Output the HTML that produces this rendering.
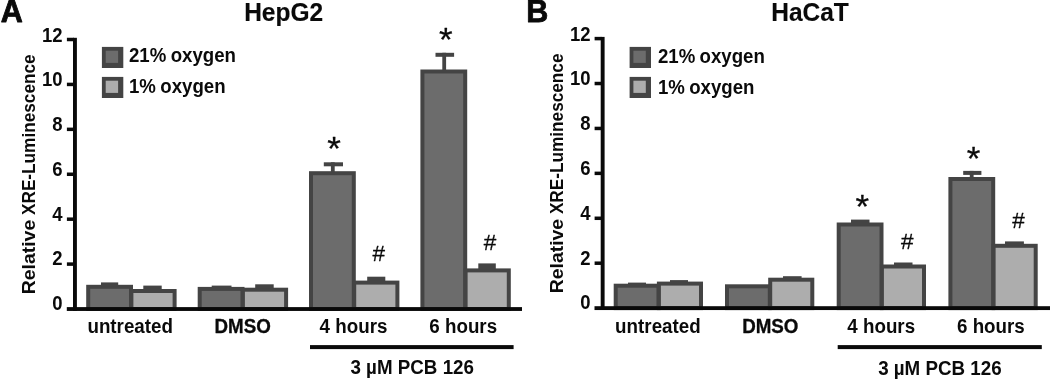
<!DOCTYPE html>
<html><head><meta charset="utf-8"><title>XRE-Luminescence</title>
<style>
html,body{margin:0;padding:0;background:#fff;}
svg{display:block;}
text{font-family:"Liberation Sans", sans-serif;fill:#0a0a0a;stroke:#0a0a0a;stroke-width:0;stroke-linejoin:round;}
.tk{font-size:18.5px;font-weight:bold;}
.yl{font-size:18px;font-weight:bold;}
.pl{font-size:30.5px;font-weight:bold;stroke-width:0.8px;}
.tt{font-size:24.5px;font-weight:bold;stroke-width:0.15px;}
.lg{font-size:18.65px;font-weight:bold;word-spacing:-0.8px;}
.xl{font-size:18.8px;font-weight:bold;}
.xb{stroke-width:0.3px;}
.st{font-size:35px;stroke-width:0.3px;}
.hs{font-size:22.5px;stroke-width:0.3px;}
</style></head><body>
<svg width="1050" height="379" viewBox="0 0 1050 379">
<defs><filter id="soft" x="0" y="0" width="1050" height="379" filterUnits="userSpaceOnUse" color-interpolation-filters="sRGB"><feGaussianBlur stdDeviation="0.45"/></filter></defs>
<rect width="1050" height="379" fill="#ffffff"/>
<g filter="url(#soft)">
<rect width="1050" height="379" fill="#ffffff"/>
<g>
<rect x="73.0" y="37.8" width="3.9" height="273" fill="#0a0a0a"/>
<rect x="66.9" y="37.75" width="7" height="3.5" fill="#0a0a0a"/>
<text transform="translate(62.50,42.05) scale(1,1.1)" class="tk" text-anchor="end">12</text>
<rect x="66.9" y="82.67" width="7" height="3.5" fill="#0a0a0a"/>
<text transform="translate(62.50,85.77) scale(1,1.1)" class="tk" text-anchor="end">10</text>
<rect x="66.9" y="127.59" width="7" height="3.5" fill="#0a0a0a"/>
<text transform="translate(62.50,130.69) scale(1,1.1)" class="tk" text-anchor="end">8</text>
<rect x="66.9" y="172.51" width="7" height="3.5" fill="#0a0a0a"/>
<text transform="translate(62.50,175.61) scale(1,1.1)" class="tk" text-anchor="end">6</text>
<rect x="66.9" y="217.43" width="7" height="3.5" fill="#0a0a0a"/>
<text transform="translate(62.50,220.53) scale(1,1.1)" class="tk" text-anchor="end">4</text>
<rect x="66.9" y="262.35" width="7" height="3.5" fill="#0a0a0a"/>
<text transform="translate(62.50,265.45) scale(1,1.1)" class="tk" text-anchor="end">2</text>
<text transform="translate(62.50,310.37) scale(1,1.1)" class="tk" text-anchor="end">0</text>
<text transform="translate(35.00,294.20) rotate(-90) scale(1,1.035)" class="yl" textLength="74.4" lengthAdjust="spacingAndGlyphs">Relative</text>
<text transform="translate(35.00,215.00) rotate(-90) scale(1,1.035)" class="yl" textLength="160.6" lengthAdjust="spacingAndGlyphs">XRE-Luminescence</text>
<text transform="translate(0.70,22.00) scale(1,1.0)" class="pl">A</text>
<text transform="translate(283.60,20.70) scale(1,1.035)" class="tt" text-anchor="middle">HepG2</text>
<rect x="101.9" y="46.9" width="21.4" height="21.1" fill="#444444"/>
<rect x="105.7" y="50.7" width="12.4" height="12.2" fill="#6c6c6c"/>
<text transform="translate(129.00,62.40) scale(1,1.05)" class="lg">21% oxygen</text>
<rect x="101.9" y="76.9" width="21.4" height="21.1" fill="#444444"/>
<rect x="105.7" y="80.7" width="12.4" height="12.2" fill="#adadad"/>
<text transform="translate(129.00,92.80) scale(1,1.05)" class="lg">1% oxygen</text>
<rect x="88.2" y="286.8" width="42.8" height="22.2" fill="#6c6c6c" stroke="#444444" stroke-width="4"/>
<rect x="131.4" y="291.0" width="43.2" height="18.0" fill="#adadad" stroke="#444444" stroke-width="4"/>
<rect x="199.7" y="288.9" width="42.8" height="20.1" fill="#6c6c6c" stroke="#444444" stroke-width="4"/>
<rect x="242.9" y="289.7" width="43.2" height="19.3" fill="#adadad" stroke="#444444" stroke-width="4"/>
<rect x="311.0" y="173.2" width="42.8" height="135.8" fill="#6c6c6c" stroke="#444444" stroke-width="4"/>
<rect x="354.2" y="282.6" width="43.2" height="26.4" fill="#adadad" stroke="#444444" stroke-width="4"/>
<rect x="422.4" y="71.5" width="42.8" height="237.5" fill="#6c6c6c" stroke="#444444" stroke-width="4"/>
<rect x="465.6" y="270.4" width="43.2" height="38.6" fill="#adadad" stroke="#444444" stroke-width="4"/>
<rect x="101.0" y="282.4" width="17.2" height="4.0" fill="#444444"/>
<rect x="143.3" y="285.6" width="18.4" height="4.4" fill="#444444"/>
<rect x="211.7" y="285.6" width="19.8" height="4.0" fill="#444444"/>
<rect x="255.2" y="284.3" width="18.5" height="4.4" fill="#444444"/>
<rect x="323.8" y="162.3" width="19.2" height="4.0" fill="#444444"/>
<rect x="330.9" y="162.3" width="3.8" height="9.9" fill="#444444"/>
<rect x="367.2" y="276.7" width="18.1" height="4.9" fill="#444444"/>
<rect x="435.5" y="52.8" width="18.6" height="4.0" fill="#444444"/>
<rect x="442.3" y="52.8" width="3.8" height="17.7" fill="#444444"/>
<rect x="478.3" y="263.4" width="17.5" height="6.0" fill="#444444"/>
<rect x="66.8" y="307.1" width="455.2" height="3.85" fill="#0a0a0a"/>
<text transform="translate(130.20,332.80) scale(1,1.035)" class="xl" text-anchor="middle">untreated</text>
<text transform="translate(242.60,332.80) scale(1,1.035)" class="xl xb" text-anchor="middle">DMSO</text>
<text transform="translate(353.50,332.80) scale(1,1.035)" class="xl" text-anchor="middle">4 hours</text>
<text transform="translate(463.20,332.80) scale(1,1.035)" class="xl" text-anchor="middle">6 hours</text>
<rect x="310.0" y="345.1" width="203.6" height="4" fill="#0a0a0a"/>
<text transform="translate(412.20,374.40) scale(1,1.035)" class="xl" text-anchor="middle">3 µM PCB 126</text>
<text transform="translate(334.00,159.60) scale(1,0.97)" class="st" text-anchor="middle">*</text>
<text transform="translate(445.80,50.60) scale(1,0.97)" class="st" text-anchor="middle">*</text>
<text transform="translate(378.80,261.00) scale(1,1.0)" class="hs" text-anchor="middle">#</text>
<text transform="translate(490.10,250.30) scale(1,1.0)" class="hs" text-anchor="middle">#</text>
</g>
<g>
<rect x="600.7" y="36.9" width="3.9" height="273" fill="#0a0a0a"/>
<rect x="594.6" y="36.85" width="7" height="3.5" fill="#0a0a0a"/>
<text transform="translate(590.50,41.15) scale(1,1.1)" class="tk" text-anchor="end">12</text>
<rect x="594.6" y="81.77" width="7" height="3.5" fill="#0a0a0a"/>
<text transform="translate(590.50,84.87) scale(1,1.1)" class="tk" text-anchor="end">10</text>
<rect x="594.6" y="126.69" width="7" height="3.5" fill="#0a0a0a"/>
<text transform="translate(590.50,129.79) scale(1,1.1)" class="tk" text-anchor="end">8</text>
<rect x="594.6" y="171.61" width="7" height="3.5" fill="#0a0a0a"/>
<text transform="translate(590.50,174.71) scale(1,1.1)" class="tk" text-anchor="end">6</text>
<rect x="594.6" y="216.53" width="7" height="3.5" fill="#0a0a0a"/>
<text transform="translate(590.50,219.63) scale(1,1.1)" class="tk" text-anchor="end">4</text>
<rect x="594.6" y="261.45" width="7" height="3.5" fill="#0a0a0a"/>
<text transform="translate(590.50,264.55) scale(1,1.1)" class="tk" text-anchor="end">2</text>
<text transform="translate(590.50,309.47) scale(1,1.1)" class="tk" text-anchor="end">0</text>
<text transform="translate(562.70,293.30) rotate(-90) scale(1,1.035)" class="yl" textLength="74.4" lengthAdjust="spacingAndGlyphs">Relative</text>
<text transform="translate(562.70,214.10) rotate(-90) scale(1,1.035)" class="yl" textLength="160.6" lengthAdjust="spacingAndGlyphs">XRE-Luminescence</text>
<text transform="translate(526.20,22.00) scale(1,1.0)" class="pl">B</text>
<text transform="translate(810.00,20.70) scale(1,1.035)" class="tt" text-anchor="middle">HaCaT</text>
<rect x="629.6" y="46.9" width="21.4" height="21.1" fill="#444444"/>
<rect x="633.4" y="50.7" width="12.4" height="12.2" fill="#6c6c6c"/>
<text transform="translate(657.90,63.20) scale(1,1.05)" class="lg">21% oxygen</text>
<rect x="629.6" y="76.9" width="21.4" height="21.1" fill="#444444"/>
<rect x="633.4" y="80.7" width="12.4" height="12.2" fill="#adadad"/>
<text transform="translate(657.90,93.60) scale(1,1.05)" class="lg">1% oxygen</text>
<rect x="615.7" y="285.7" width="42.8" height="22.4" fill="#6c6c6c" stroke="#444444" stroke-width="4"/>
<rect x="658.9" y="283.6" width="42.1" height="24.5" fill="#adadad" stroke="#444444" stroke-width="4"/>
<rect x="727.0" y="286.3" width="42.8" height="21.8" fill="#6c6c6c" stroke="#444444" stroke-width="4"/>
<rect x="770.2" y="279.7" width="42.1" height="28.4" fill="#adadad" stroke="#444444" stroke-width="4"/>
<rect x="838.7" y="224.5" width="42.8" height="83.6" fill="#6c6c6c" stroke="#444444" stroke-width="4"/>
<rect x="881.9" y="266.5" width="42.1" height="41.6" fill="#adadad" stroke="#444444" stroke-width="4"/>
<rect x="950.4" y="179.0" width="42.8" height="129.1" fill="#6c6c6c" stroke="#444444" stroke-width="4"/>
<rect x="993.6" y="245.8" width="42.1" height="62.3" fill="#adadad" stroke="#444444" stroke-width="4"/>
<rect x="628.0" y="282.6" width="18.0" height="4.0" fill="#444444"/>
<rect x="670.0" y="280.1" width="18.0" height="4.0" fill="#444444"/>
<rect x="783.0" y="276.2" width="18.6" height="4.0" fill="#444444"/>
<rect x="851.0" y="219.6" width="18.5" height="4.0" fill="#444444"/>
<rect x="894.0" y="262.5" width="18.5" height="4.0" fill="#444444"/>
<rect x="963.2" y="170.9" width="18.2" height="4.0" fill="#444444"/>
<rect x="969.8" y="170.9" width="3.8" height="7.1" fill="#444444"/>
<rect x="1005.0" y="241.4" width="18.9" height="4.0" fill="#444444"/>
<rect x="594.5" y="306.2" width="455.5" height="3.85" fill="#0a0a0a"/>
<text transform="translate(657.90,333.20) scale(1,1.035)" class="xl" text-anchor="middle">untreated</text>
<text transform="translate(770.30,333.20) scale(1,1.035)" class="xl xb" text-anchor="middle">DMSO</text>
<text transform="translate(881.20,333.20) scale(1,1.035)" class="xl" text-anchor="middle">4 hours</text>
<text transform="translate(990.90,333.20) scale(1,1.035)" class="xl" text-anchor="middle">6 hours</text>
<rect x="837.7" y="345.1" width="204.1" height="4" fill="#0a0a0a"/>
<text transform="translate(939.90,374.67) scale(1,1.035)" class="xl" text-anchor="middle">3 µM PCB 126</text>
<text transform="translate(862.20,217.80) scale(1,0.97)" class="st" text-anchor="middle">*</text>
<text transform="translate(973.50,169.80) scale(1,0.97)" class="st" text-anchor="middle">*</text>
<text transform="translate(907.30,249.30) scale(1,1.0)" class="hs" text-anchor="middle">#</text>
<text transform="translate(1018.40,227.50) scale(1,1.0)" class="hs" text-anchor="middle">#</text>
</g>
</g>
</svg>
</body></html>
